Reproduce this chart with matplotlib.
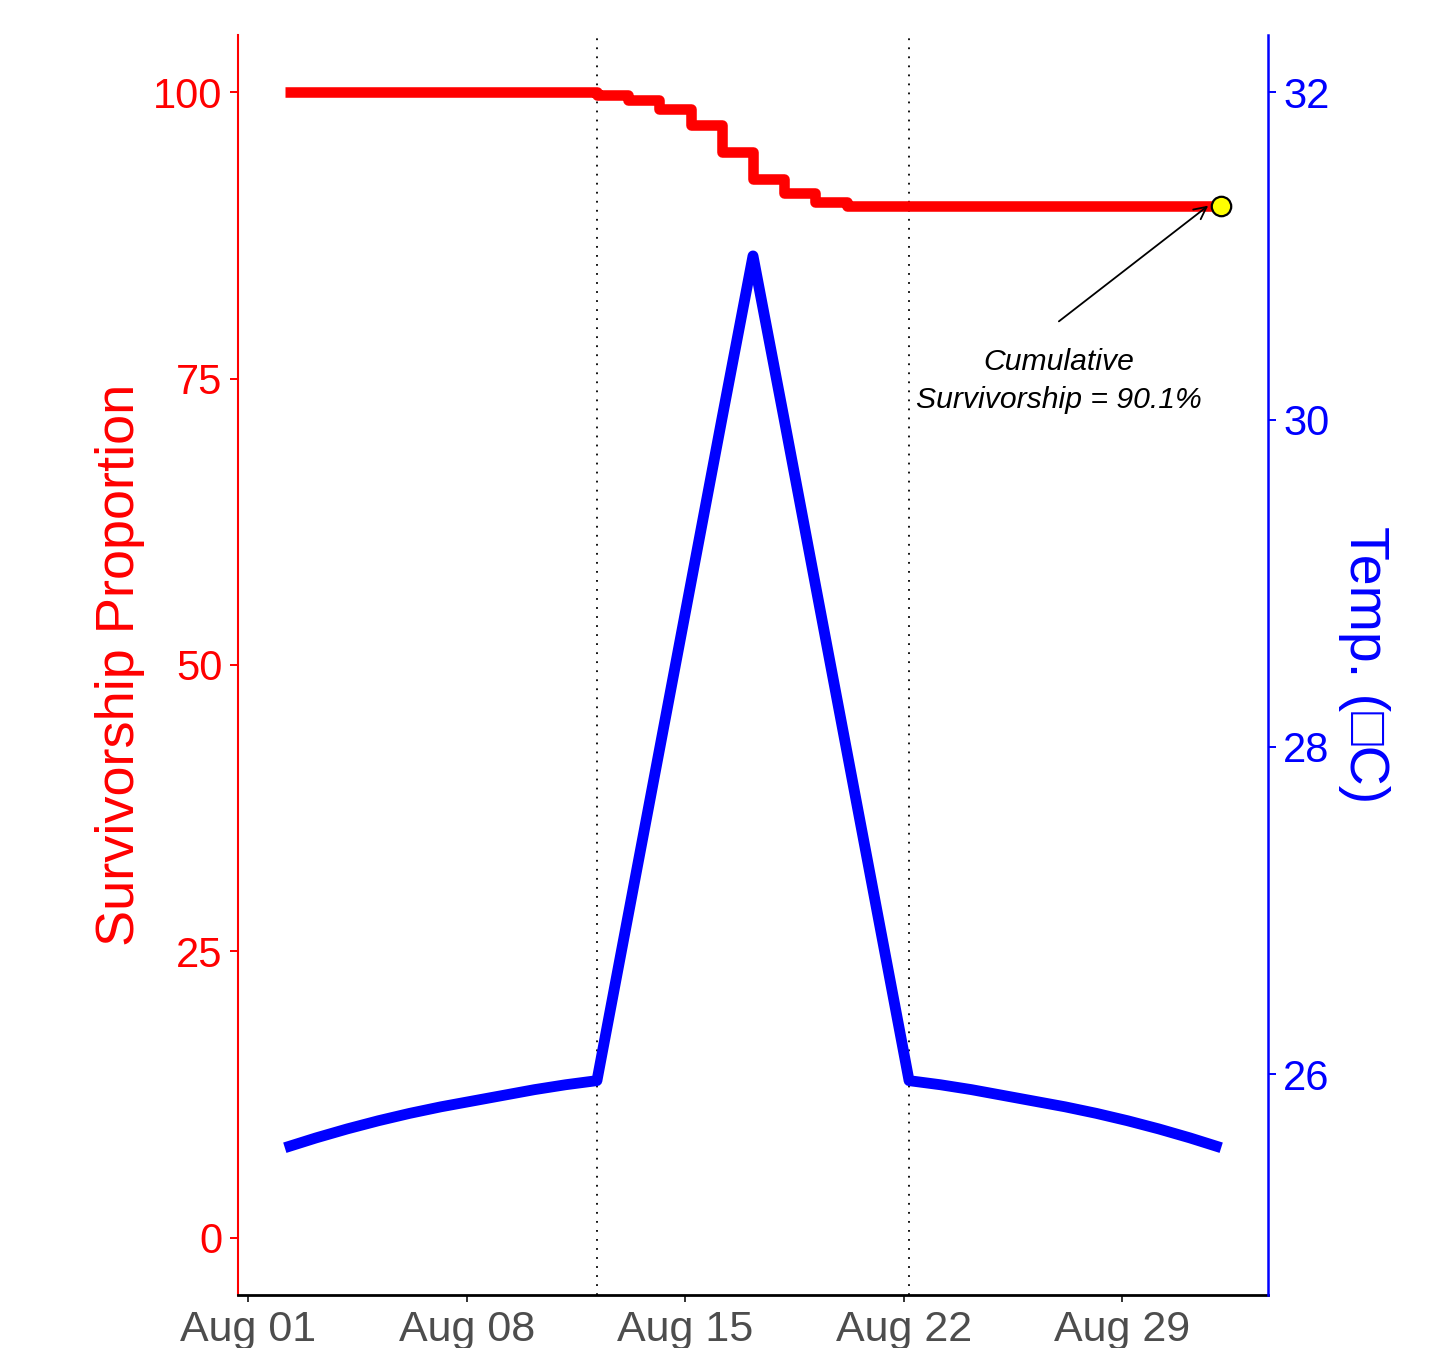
import matplotlib
matplotlib.use('Agg')
import matplotlib.pyplot as plt
import matplotlib.dates as mdates
import pandas as pd

plt.rcParams['font.family'] = ['Liberation Sans', 'DejaVu Sans']

# ---- data ----
dates = pd.date_range('2023-08-02 04:00', periods=31, freq='D')
survivorship = [100, 100, 100, 100, 100, 100, 100, 100, 100, 100,
                99.76, 99.33, 98.54, 97.1, 94.76, 92.4, 91.2, 90.4,
                90.1, 90.1, 90.1, 90.1, 90.1, 90.1, 90.1, 90.1, 90.1,
                90.1, 90.1, 90.1, 90.1]
temperature = [25.55, 25.61, 25.665, 25.715, 25.76, 25.80, 25.835, 25.87,
               25.905, 25.935, 25.96,
               26.97, 27.98, 28.99, 30.0, 31.0, 30.0, 28.99, 27.98, 26.97,
               25.96, 25.935, 25.905, 25.87, 25.835, 25.80, 25.76, 25.715,
               25.665, 25.61, 25.55]
event_dates = pd.to_datetime(['2023-08-12 04:00', '2023-08-22 04:00'])
x_tick_dates = pd.to_datetime(['2023-08-01', '2023-08-08', '2023-08-15',
                               '2023-08-22', '2023-08-29'])
surv_ticks = [0, 25, 50, 75, 100]
temp_ticks = [26, 28, 30, 32]
annot_text = 'Cumulative\nSurvivorship = 90.1%'

# ---- figure ----
fig = plt.figure(figsize=(14.55, 13.48), dpi=100)
ax = fig.add_axes([238/1455, 1 - 1295/1348, (1268-238)/1455, (1295-35)/1348])
ax2 = ax.twinx()

pad = pd.Timedelta(days=1.5)
ax.set_xlim(dates[0] - pad, dates[-1] + pad)
ax.set_ylim(-5, 105)
ax2.set_ylim(24.65, 32.35)

for d in event_dates:
    ax.axvline(d, color='black', lw=1.3, linestyle=(0, (1, 4)), zorder=1)

ax.step(dates, survivorship, where='post', color='red', lw=7.6,
        solid_capstyle='butt', solid_joinstyle='round', zorder=3)
ax2.plot(dates, temperature, color='blue', lw=7.8,
         solid_capstyle='butt', solid_joinstyle='round', zorder=3)
ax.plot([dates[-1]], [survivorship[-1]], 'o', ms=14, mfc='yellow',
        mec='black', mew=1.6, zorder=6)

tail_x = dates[-1] - pd.Timedelta(days=5.2)
tip_x = dates[-1] - pd.Timedelta(hours=10)
ax.annotate('', xy=(tip_x, survivorship[-1]), xytext=(tail_x, 80),
            arrowprops=dict(arrowstyle='->', lw=1.3, color='black',
                            shrinkA=0, shrinkB=0, mutation_scale=22), zorder=5)
ax.text(tail_x, 74.8, annot_text, ha='center', va='center', fontsize=21.7,
        style='italic', linespacing=1.45, color='black', zorder=5)

# ---- axes styling ----
ax.set_xticks(x_tick_dates)
ax.xaxis.set_major_formatter(mdates.DateFormatter('%b %d'))
ax.set_yticks(surv_ticks)
ax2.set_yticks(temp_ticks)

ax.tick_params(axis='x', colors='#333333', labelcolor='#4D4D4D',
               labelsize=31, length=5, width=1.4, pad=6)
ax.tick_params(axis='y', colors='red', labelcolor='red', labelsize=30,
               length=6, width=1.4, pad=5)
ax2.tick_params(axis='y', colors='blue', labelcolor='blue', labelsize=30,
                length=6, width=1.4, pad=5)

for s in ['top', 'right']:
    ax.spines[s].set_visible(False)
for s in ['top', 'left', 'bottom']:
    ax2.spines[s].set_visible(False)
ax.spines['left'].set_color('red')
ax.spines['left'].set_linewidth(1.5)
ax.spines['bottom'].set_color('black')
ax.spines['bottom'].set_linewidth(2)
ax2.spines['right'].set_color('blue')
ax2.spines['right'].set_linewidth(1.8)

ax.set_ylabel('Survivorship Proportion', color='red', fontsize=39, labelpad=6)
ax2.set_ylabel('Temp. (\u25a1C)', color='blue', fontsize=40, rotation=270,
               va='bottom', labelpad=6)

fig.savefig('out.png', dpi=100, facecolor='white')
